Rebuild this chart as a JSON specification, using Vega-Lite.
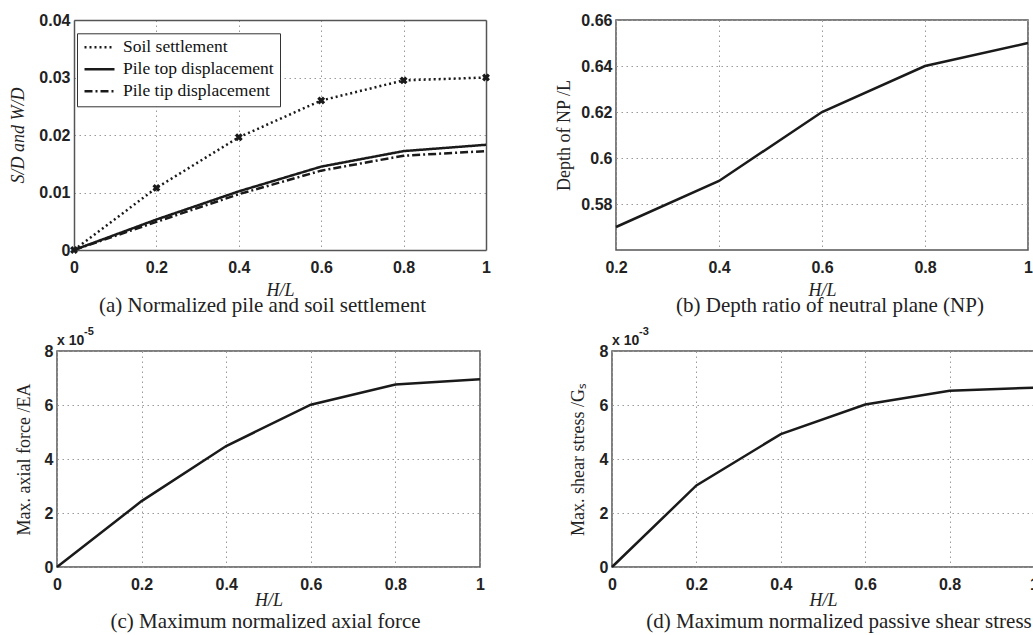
{
  "$schema": "https://vega.github.io/schema/vega-lite/v6.json",
  "padding": {"left": 9, "top": 11, "right": 0, "bottom": 0},
  "background": "white",
  "spacing": 8,
  "datasets": {
    "settlement": [
      {"HL": 0, "series": "Soil settlement", "value": 0},
      {"HL": 0.2, "series": "Soil settlement", "value": 0.0108},
      {"HL": 0.4, "series": "Soil settlement", "value": 0.0196},
      {"HL": 0.6, "series": "Soil settlement", "value": 0.026},
      {"HL": 0.8, "series": "Soil settlement", "value": 0.0295},
      {"HL": 1, "series": "Soil settlement", "value": 0.03},
      {"HL": 0, "series": "Pile top displacement", "value": 0},
      {"HL": 0.2, "series": "Pile top displacement", "value": 0.0053},
      {"HL": 0.4, "series": "Pile top displacement", "value": 0.0102},
      {"HL": 0.6, "series": "Pile top displacement", "value": 0.0145},
      {"HL": 0.8, "series": "Pile top displacement", "value": 0.0172},
      {"HL": 1, "series": "Pile top displacement", "value": 0.0183},
      {"HL": 0, "series": "Pile tip displacement", "value": 0},
      {"HL": 0.2, "series": "Pile tip displacement", "value": 0.0049},
      {"HL": 0.4, "series": "Pile tip displacement", "value": 0.0097},
      {"HL": 0.6, "series": "Pile tip displacement", "value": 0.0138},
      {"HL": 0.8, "series": "Pile tip displacement", "value": 0.0164},
      {"HL": 1, "series": "Pile tip displacement", "value": 0.0172}
    ],
    "np": [
      {"HL": 0.2, "depth": 0.57},
      {"HL": 0.4, "depth": 0.59},
      {"HL": 0.6, "depth": 0.62},
      {"HL": 0.8, "depth": 0.64},
      {"HL": 1, "depth": 0.65}
    ],
    "axial": [
      {"HL": 0, "force": 0},
      {"HL": 0.2, "force": 0.0000244},
      {"HL": 0.4, "force": 0.0000448},
      {"HL": 0.6, "force": 0.0000601},
      {"HL": 0.8, "force": 0.0000676},
      {"HL": 1, "force": 0.0000695}
    ],
    "shear": [
      {"HL": 0, "stress": 0},
      {"HL": 0.2, "stress": 0.00302},
      {"HL": 0.4, "stress": 0.00492},
      {"HL": 0.6, "stress": 0.00602},
      {"HL": 0.8, "stress": 0.00653},
      {"HL": 1, "stress": 0.00664}
    ],
    "one": [{}]
  },
  "config": {
    "view": {"stroke": "#555", "strokeWidth": 1.5},
    "axis": {
      "labelFont": "Liberation Sans", "labelFontWeight": "bold", "labelFontSize": 16, "labelColor": "#222",
      "labelFlush": false, "labelOverlap": false,
      "titleFont": "Liberation Serif", "titleFontWeight": "normal", "titleFontSize": 18, "titleColor": "#222",
      "domain": false, "ticks": false, "grid": true, "gridColor": "#9a9a9a", "gridDash": [1.5, 3.5], "gridWidth": 1,
      "domainColor": "#555", "domainWidth": 1.5
    },
    "axisX": {"labelPadding": 9, "titleFontStyle": "italic"},
    "axisY": {"labelPadding": 4},
    "title": {"font": "Liberation Serif", "fontSize": 21, "fontWeight": "normal", "color": "#222", "orient": "bottom", "anchor": "middle", "frame": "group"}
  },
  "vconcat": [
    {
      "spacing": 64,
      "hconcat": [
        {
          "width": 429, "height": 230,
          "view": {"stroke": null},
          "data": {"name": "settlement"},
          "title": {"text": "(a) Normalized pile and soil settlement", "dx": -9, "offset": -4},
          "resolve": {"axis": {"x": "independent", "y": "independent"}},
          "layer": [
            {
              "mark": {"type": "line", "strokeWidth": 2.5, "color": "#1a1a1a"},
              "encoding": {
                "x": {"field": "HL", "type": "quantitative", "scale": {"domain": [0, 1], "nice": false, "range": [17, 429]},
                      "axis": {"title": "H/L", "values": [0, 0.2, 0.4, 0.6, 0.8, 1], "format": "~g", "titlePadding": 6, "domain": true}},
                "y": {"field": "value", "type": "quantitative", "scale": {"domain": [0, 0.04], "nice": false},
                      "axis": {"title": "S/D and W/D", "titleFontStyle": "italic", "values": [0, 0.01, 0.02, 0.03, 0.04], "format": "~g", "titlePadding": 11, "offset": -17, "domain": true}},
                "strokeDash": {"field": "series", "type": "nominal",
                  "scale": {"domain": ["Soil settlement", "Pile top displacement", "Pile tip displacement"], "range": [[2, 3], [1, 0], [8, 3, 2, 3]]},
                  "legend": {"title": null, "orient": "none", "legendX": 20, "legendY": 13.3, "symbolType": "stroke", "symbolSize": 900,
                    "symbolStrokeWidth": 2.5, "symbolStrokeColor": "#1a1a1a", "clipHeight": 16, "rowPadding": 4, "padding": 6,
                    "labelFont": "Liberation Serif", "labelFontSize": 17.5, "labelColor": "#111", "labelOffset": 7, "labelLimit": 400,
                    "strokeColor": "#333", "fillColor": "white"}}
              }
            },
            {
              "transform": [{"filter": "datum.series === 'Soil settlement'"}],
              "mark": {"type": "point", "shape": "cross", "angle": 45, "filled": true, "size": 64, "color": "#1a1a1a", "opacity": 1},
              "encoding": {
                "x": {"field": "HL", "type": "quantitative",
                      "axis": {"orient": "top", "title": null, "labels": false, "grid": false, "domain": true, "values": [0, 1]}},
                "y": {"field": "value", "type": "quantitative",
                      "axis": {"orient": "right", "title": null, "labels": false, "grid": false, "domain": true, "values": [0, 0.04]}}
              }
            }
          ]
        },
        {
          "width": 412, "height": 230,
          "data": {"name": "np"},
          "title": {"text": "(b) Depth ratio of neutral plane (NP)", "dx": 8, "offset": -4},
          "mark": {"type": "line", "strokeWidth": 2.5, "color": "#1a1a1a"},
          "encoding": {
            "x": {"field": "HL", "type": "quantitative", "scale": {"domain": [0.2, 1], "nice": false},
                  "axis": {"title": "H/L", "values": [0.2, 0.4, 0.6, 0.8, 1], "format": "~g", "titlePadding": 6}},
            "y": {"field": "depth", "type": "quantitative", "scale": {"domain": [0.56, 0.66], "nice": false, "zero": false},
                  "axis": {"title": "Depth of NP /L", "values": [0.58, 0.6, 0.62, 0.64, 0.66], "format": ".2~f", "titlePadding": 7}}
          }
        }
      ]
    },
    {
      "spacing": 82,
      "hconcat": [
        {
          "width": 423, "height": 216,
          "title": {"text": "(c) Maximum normalized axial force", "dx": -3, "offset": 2},
          "layer": [
            {
              "data": {"name": "axial"},
              "mark": {"type": "line", "strokeWidth": 2.5, "color": "#1a1a1a"},
              "encoding": {
                "x": {"field": "HL", "type": "quantitative", "scale": {"domain": [0, 1], "nice": false},
                      "axis": {"title": "H/L", "values": [0, 0.2, 0.4, 0.6, 0.8, 1], "format": "~g", "titlePadding": -1}},
                "y": {"field": "force", "type": "quantitative", "scale": {"domain": [0, 0.00008], "nice": false},
                      "axis": {"title": "Max. axial force /EA", "values": [0, 0.00002, 0.00004, 0.00006, 0.00008], "labelExpr": "round(datum.value * 100000)", "titlePadding": 11}}
              }
            },
            {
              "data": {"name": "one"},
              "mark": {"type": "text", "text": "x 10", "align": "left", "baseline": "alphabetic", "dx": 0, "dy": -6, "font": "Liberation Sans", "fontWeight": "bold", "fontSize": 14, "color": "#222"},
              "encoding": {"x": {"datum": 0, "type": "quantitative"}, "y": {"datum": 0.00008, "type": "quantitative"}}
            },
            {
              "data": {"name": "one"},
              "mark": {"type": "text", "text": "-5", "align": "left", "baseline": "alphabetic", "dx": 27, "dy": -16, "font": "Liberation Sans", "fontWeight": "bold", "fontSize": 11, "color": "#222"},
              "encoding": {"x": {"datum": 0, "type": "quantitative"}, "y": {"datum": 0.00008, "type": "quantitative"}}
            }
          ]
        },
        {
          "width": 422, "height": 216,
          "title": {"text": "(d) Maximum normalized passive shear stress", "dx": 16, "offset": 2},
          "layer": [
            {
              "data": {"name": "shear"},
              "mark": {"type": "line", "strokeWidth": 2.5, "color": "#1a1a1a"},
              "encoding": {
                "x": {"field": "HL", "type": "quantitative", "scale": {"domain": [0, 1], "nice": false},
                      "axis": {"title": "H/L", "values": [0, 0.2, 0.4, 0.6, 0.8, 1], "format": "~g", "titlePadding": -1}},
                "y": {"field": "stress", "type": "quantitative", "scale": {"domain": [0, 0.008], "nice": false},
                      "axis": {"title": "Max. shear stress /Gₛ", "values": [0, 0.002, 0.004, 0.006, 0.008], "labelExpr": "round(datum.value * 1000)", "titlePadding": 12}}
              }
            },
            {
              "data": {"name": "one"},
              "mark": {"type": "text", "text": "x 10", "align": "left", "baseline": "alphabetic", "dx": 0, "dy": -6, "font": "Liberation Sans", "fontWeight": "bold", "fontSize": 14, "color": "#222"},
              "encoding": {"x": {"datum": 0, "type": "quantitative"}, "y": {"datum": 0.008, "type": "quantitative"}}
            },
            {
              "data": {"name": "one"},
              "mark": {"type": "text", "text": "-3", "align": "left", "baseline": "alphabetic", "dx": 27, "dy": -16, "font": "Liberation Sans", "fontWeight": "bold", "fontSize": 11, "color": "#222"},
              "encoding": {"x": {"datum": 0, "type": "quantitative"}, "y": {"datum": 0.008, "type": "quantitative"}}
            }
          ]
        }
      ]
    }
  ]
}
